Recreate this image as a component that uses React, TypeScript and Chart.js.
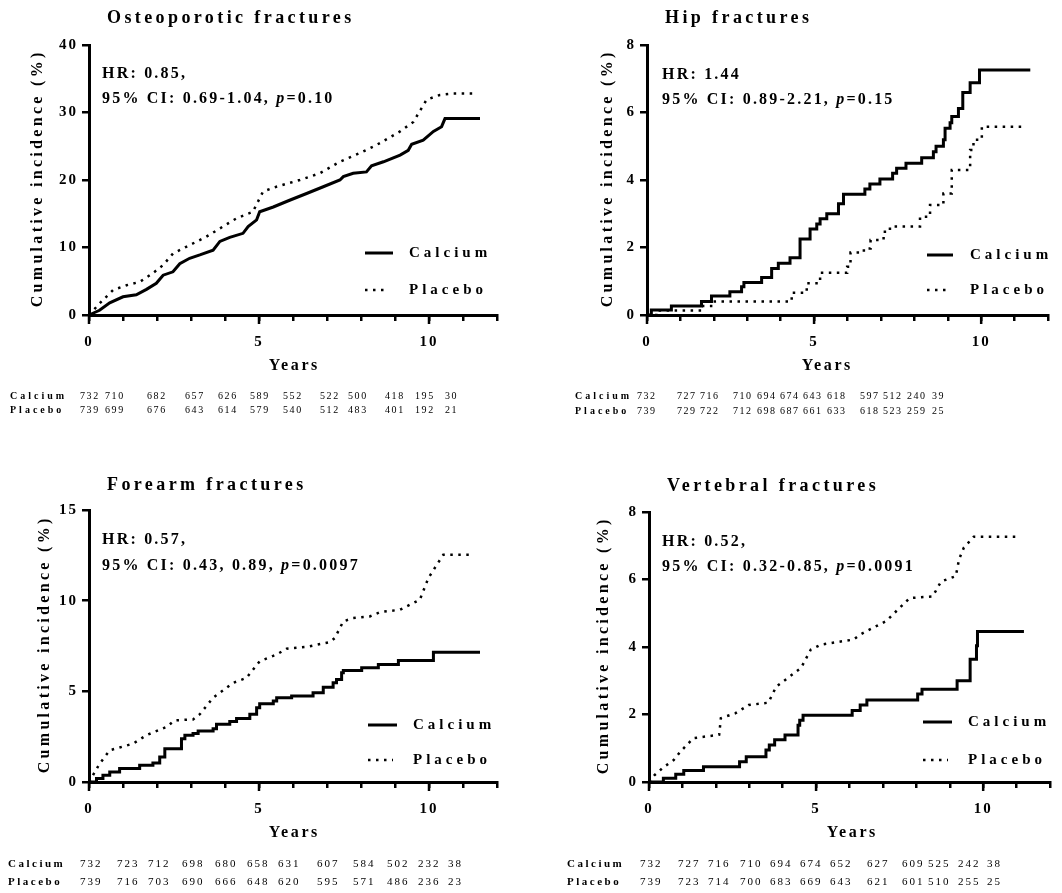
import { useEffect, useRef } from 'react';
import { Chart, registerables } from 'chart.js';

Chart.register(...registerables);

const SERIF = '"Liberation Serif", "Times New Roman", serif';
const W = 1062;
const H = 893;

// ---------- Data: Osteoporotic fractures ----------
const osteoCalciumYears = [0, 0.31, 0.61, 1.0, 1.39, 1.69, 1.98, 2.18, 2.47, 2.67, 2.96, 3.26, 3.65, 3.85, 4.14, 4.53, 4.68, 4.93, 5.02, 5.42, 5.9, 6.4, 6.89, 7.38, 7.48, 7.77, 8.16, 8.31, 8.66, 9.15, 9.39, 9.49, 9.83, 10.13, 10.37, 10.47, 11.5];
const osteoCalciumPct = [0, 0.7, 1.8, 2.7, 3.0, 3.8, 4.7, 5.9, 6.4, 7.6, 8.4, 8.9, 9.6, 10.9, 11.5, 12.1, 13.1, 14.1, 15.3, 16.0, 17.0, 18.0, 19.0, 20.0, 20.5, 21.0, 21.2, 22.1, 22.7, 23.7, 24.4, 25.3, 25.9, 27.2, 27.9, 29.1, 29.1];
const osteoPlaceboYears = [0, 0.31, 0.71, 1.1, 1.49, 1.88, 2.18, 2.47, 2.86, 3.45, 3.94, 4.33, 4.82, 5.12, 5.51, 6.2, 6.79, 7.38, 7.97, 8.46, 9.15, 9.54, 9.93, 10.32, 10.71, 11.3];
const osteoPlaceboPct = [0, 1.7, 3.7, 4.4, 4.9, 6.2, 7.4, 9.1, 10.1, 11.6, 13.1, 14.3, 15.3, 18.3, 19.0, 20.0, 21.0, 22.7, 24.0, 25.2, 27.2, 28.6, 31.9, 32.6, 32.8, 32.8];
const osteoRiskCalcium = [732, 710, 682, 657, 626, 589, 552, 522, 500, 418, 195, 30];
const osteoRiskPlacebo = [739, 699, 676, 643, 614, 579, 540, 512, 483, 401, 192, 21];

// ---------- Data: Hip fractures ----------
const hipCalciumYears = [0, 0.13, 0.73, 1.63, 1.93, 2.48, 2.83, 2.9, 3.43, 3.73, 3.93, 4.28, 4.58, 4.88, 5.08, 5.18, 5.38, 5.73, 5.88, 6.52, 6.67, 6.97, 7.35, 7.47, 7.75, 8.22, 8.57, 8.65, 8.87, 8.92, 9.07, 9.12, 9.32, 9.45, 9.67, 9.95, 11.47];
const hipCalciumPct = [0, 0.15, 0.27, 0.4, 0.56, 0.69, 0.84, 0.96, 1.11, 1.38, 1.53, 1.7, 2.25, 2.55, 2.7, 2.85, 3.0, 3.3, 3.58, 3.73, 3.88, 4.03, 4.2, 4.35, 4.5, 4.66, 4.84, 5.0, 5.19, 5.53, 5.7, 5.88, 6.12, 6.59, 6.88, 7.26, 7.26];
const hipPlaceboYears = [0, 0.28, 1.68, 2.03, 4.33, 4.78, 5.18, 5.99, 6.09, 6.49, 6.69, 7.08, 7.27, 8.17, 8.47, 8.87, 9.12, 9.67, 9.77, 10.02, 11.27];
const hipPlaceboPct = [0, 0.13, 0.27, 0.4, 0.66, 0.94, 1.25, 1.43, 1.85, 1.97, 2.22, 2.47, 2.62, 2.91, 3.26, 3.6, 4.3, 4.89, 5.19, 5.58, 5.58];
const hipRiskCalcium = [732, 727, 716, 710, 694, 674, 643, 618, 597, 512, 240, 39];
const hipRiskPlacebo = [739, 729, 722, 712, 698, 687, 661, 633, 618, 523, 259, 25];

// ---------- Data: Forearm fractures ----------
const foreCalciumYears = [0, 0.22, 0.41, 0.61, 0.9, 1.49, 1.88, 2.08, 2.23, 2.72, 2.82, 3.06, 3.21, 3.65, 3.75, 4.14, 4.34, 4.73, 4.93, 5.02, 5.42, 5.52, 5.96, 6.59, 6.89, 7.18, 7.28, 7.43, 7.48, 8.02, 8.51, 9.1, 10.13, 11.5];
const foreCalciumPct = [0, 0.19, 0.37, 0.55, 0.74, 0.92, 1.05, 1.38, 1.84, 2.39, 2.58, 2.67, 2.81, 2.94, 3.18, 3.34, 3.5, 3.74, 4.1, 4.32, 4.47, 4.65, 4.74, 4.92, 5.23, 5.47, 5.65, 6.02, 6.15, 6.3, 6.48, 6.7, 7.16, 7.16];
const forePlaceboYears = [0, 0.31, 0.61, 0.9, 1.3, 1.69, 2.28, 2.52, 3.06, 3.26, 3.65, 4.24, 4.63, 5.02, 5.52, 5.81, 6.4, 7.09, 7.23, 7.48, 7.77, 8.26, 8.56, 9.15, 9.73, 9.98, 10.23, 10.42, 11.3];
const forePlaceboPct = [0, 1.0, 1.75, 1.9, 2.12, 2.58, 3.04, 3.4, 3.45, 3.74, 4.65, 5.47, 5.74, 6.66, 7.03, 7.35, 7.45, 7.72, 7.94, 8.86, 9.04, 9.13, 9.37, 9.5, 10.05, 11.24, 11.98, 12.53, 12.53];
const foreRiskCalcium = [732, 723, 712, 698, 680, 658, 631, 607, 584, 502, 232, 38];
const foreRiskPlacebo = [739, 716, 703, 690, 666, 648, 620, 595, 571, 486, 236, 23];

// ---------- Data: Vertebral fractures ----------
const vertCalciumYears = [0, 0.43, 0.8, 1.04, 1.63, 2.71, 2.91, 3.5, 3.6, 3.76, 4.07, 4.46, 4.51, 4.61, 6.08, 6.32, 6.52, 8.04, 8.17, 9.22, 9.61, 9.8, 9.83, 11.22];
const vertCalciumPct = [0, 0.11, 0.23, 0.34, 0.45, 0.6, 0.75, 0.95, 1.1, 1.25, 1.39, 1.68, 1.83, 1.98, 2.12, 2.28, 2.43, 2.61, 2.75, 3.0, 3.64, 4.04, 4.46, 4.46];
const vertPlaceboYears = [0, 0.16, 0.45, 0.74, 0.94, 1.33, 2.1, 2.15, 2.59, 2.98, 3.57, 3.81, 4.15, 4.55, 4.84, 5.14, 6.12, 6.32, 6.61, 7.1, 7.45, 7.8, 8.49, 8.74, 9.18, 9.28, 9.42, 9.72, 11.04];
const vertPlaceboPct = [0, 0.2, 0.45, 0.65, 0.9, 1.3, 1.4, 1.89, 2.04, 2.28, 2.35, 2.83, 3.08, 3.38, 3.92, 4.07, 4.22, 4.37, 4.52, 4.77, 5.11, 5.45, 5.5, 5.94, 6.1, 6.6, 6.94, 7.27, 7.27];
const vertRiskCalcium = [732, 727, 716, 710, 694, 674, 652, 627, 609, 525, 242, 38];
const vertRiskPlacebo = [739, 723, 714, 700, 683, 669, 643, 621, 601, 510, 255, 25];

const xTickLabels = [0, 5, 10];
const seriesNames = ['Calcium', 'Placebo'];

type Area = { l: number; t: number; r: number; b: number };
type PanelCfg = {
  title: string;
  titleX: number;
  titleY: number;
  area: Area;
  yMax: number;
  yStep: number;
  yTitleX: number;
  hr1: string;
  hr2: string;
  hrP: string;
  hrX: number;
  hrY: [number, number];
  legLine: [number, number];
  legTextX: number;
  legY: [number, number];
  yearsX: number;
  yearsY: number;
  tableLabelX: number;
  tableY: [number, number];
  tableXs: number[];
  tableSize: number;
  tableSpacing: number;
  riskCalcium: number[];
  riskPlacebo: number[];
  calYears: number[];
  calPct: number[];
  plaYears: number[];
  plaPct: number[];
  calStepped: boolean;
  plaStepped: boolean;
};

const panels: PanelCfg[] = [
  {
    title: 'Osteoporotic fractures', titleX: 107, titleY: 18,
    area: { l: 89, t: 45, r: 497, b: 315 }, yMax: 40, yStep: 10, yTitleX: 38,
    hr1: 'HR: 0.85,', hr2: '95% CI: 0.69-1.04, ', hrP: '=0.10', hrX: 102, hrY: [74, 99],
    legLine: [365, 393], legTextX: 409, legY: [253, 290],
    yearsX: 293, yearsY: 366,
    tableLabelX: 10, tableY: [396, 410],
    tableXs: [80, 105, 147, 185, 218, 250, 283, 320, 348, 385, 415, 445],
    tableSize: 10, tableSpacing: 1.6,
    riskCalcium: osteoRiskCalcium, riskPlacebo: osteoRiskPlacebo,
    calYears: osteoCalciumYears, calPct: osteoCalciumPct, plaYears: osteoPlaceboYears, plaPct: osteoPlaceboPct,
    calStepped: false, plaStepped: false,
  },
  {
    title: 'Hip fractures', titleX: 665, titleY: 18,
    area: { l: 647, t: 45, r: 1048, b: 315 }, yMax: 8, yStep: 2, yTitleX: 608,
    hr1: 'HR: 1.44', hr2: '95% CI: 0.89-2.21, ', hrP: '=0.15', hrX: 662, hrY: [75, 100],
    legLine: [927, 953], legTextX: 970, legY: [255, 290],
    yearsX: 826, yearsY: 366,
    tableLabelX: 575, tableY: [396, 411],
    tableXs: [637, 677, 700, 733, 757, 780, 803, 827, 860, 883, 907, 932],
    tableSize: 10, tableSpacing: 1.5,
    riskCalcium: hipRiskCalcium, riskPlacebo: hipRiskPlacebo,
    calYears: hipCalciumYears, calPct: hipCalciumPct, plaYears: hipPlaceboYears, plaPct: hipPlaceboPct,
    calStepped: true, plaStepped: true,
  },
  {
    title: 'Forearm fractures', titleX: 107, titleY: 485,
    area: { l: 89, t: 510, r: 497, b: 782 }, yMax: 15, yStep: 5, yTitleX: 45,
    hr1: 'HR: 0.57,', hr2: '95% CI: 0.43, 0.89, ', hrP: '=0.0097', hrX: 102, hrY: [540, 566],
    legLine: [368, 397], legTextX: 413, legY: [725, 760],
    yearsX: 293, yearsY: 833,
    tableLabelX: 8, tableY: [864, 882],
    tableXs: [80, 117, 148, 182, 215, 247, 278, 317, 353, 387, 418, 448],
    tableSize: 11, tableSpacing: 2,
    riskCalcium: foreRiskCalcium, riskPlacebo: foreRiskPlacebo,
    calYears: foreCalciumYears, calPct: foreCalciumPct, plaYears: forePlaceboYears, plaPct: forePlaceboPct,
    calStepped: true, plaStepped: false,
  },
  {
    title: 'Vertebral fractures', titleX: 667, titleY: 486,
    area: { l: 649, t: 512, r: 1057, b: 782 }, yMax: 8, yStep: 2, yTitleX: 604,
    hr1: 'HR: 0.52,', hr2: '95% CI: 0.32-0.85, ', hrP: '=0.0091', hrX: 662, hrY: [542, 567],
    legLine: [923, 952], legTextX: 968, legY: [722, 760],
    yearsX: 851, yearsY: 833,
    tableLabelX: 567, tableY: [864, 882],
    tableXs: [640, 678, 708, 740, 770, 800, 830, 867, 902, 928, 958, 987],
    tableSize: 11, tableSpacing: 2,
    riskCalcium: vertRiskCalcium, riskPlacebo: vertRiskPlacebo,
    calYears: vertCalciumYears, calPct: vertCalciumPct, plaYears: vertPlaceboYears, plaPct: vertPlaceboPct,
    calStepped: true, plaStepped: false,
  },
];

const DOT_DASH = [2.5, 5.5];

function drawText(
  ctx: CanvasRenderingContext2D, s: string, x: number, y: number, font: string,
  spacing: number, align: CanvasTextAlign = 'left'
): number {
  ctx.save();
  ctx.font = font;
  (ctx as any).letterSpacing = '0px';
  const w = ctx.measureText(s).width + spacing * s.length;
  (ctx as any).letterSpacing = spacing + 'px';
  ctx.textAlign = 'left';
  ctx.textBaseline = 'middle';
  ctx.fillStyle = '#000';
  let sx = x;
  if (align === 'center') sx = x - w / 2 + spacing / 2;
  if (align === 'right') sx = x - w + spacing;
  ctx.fillText(s, sx, y);
  ctx.restore();
  return w;
}

function makeOverlay(cfg: PanelCfg) {
  return {
    id: 'overlay',
    beforeDraw(chart: Chart) {
      (chart.ctx as any).letterSpacing = '2px';
    },
    afterDraw(chart: Chart) {
      const ctx = chart.ctx;
      const a = cfg.area;
      const xs = chart.scales.x;
      // longer major ticks
      ctx.save();
      ctx.strokeStyle = '#000';
      ctx.lineWidth = 2.5;
      for (const v of xTickLabels) {
        const px = xs.getPixelForValue(v);
        ctx.beginPath();
        ctx.moveTo(px, a.b);
        ctx.lineTo(px, a.b + 9);
        ctx.stroke();
      }
      ctx.restore();

      // title
      drawText(ctx, cfg.title, cfg.titleX, cfg.titleY, `bold 18px ${SERIF}`, 3.4);

      // y title
      ctx.save();
      ctx.translate(cfg.yTitleX, (a.t + a.b) / 2);
      ctx.rotate(-Math.PI / 2);
      drawText(ctx, 'Cumulative incidence (%)', 0, 0, `bold 16px ${SERIF}`, 3.3, 'center');
      ctx.restore();

      // HR annotation
      const hrFont = `bold 16px ${SERIF}`;
      drawText(ctx, cfg.hr1, cfg.hrX, cfg.hrY[0], hrFont, 2.2);
      let x = cfg.hrX;
      x += drawText(ctx, cfg.hr2, x, cfg.hrY[1], hrFont, 2.2);
      x += drawText(ctx, 'p', x, cfg.hrY[1], `italic bold 16px ${SERIF}`, 2.2);
      drawText(ctx, cfg.hrP, x, cfg.hrY[1], hrFont, 2.2);

      // legend
      ctx.save();
      ctx.strokeStyle = '#000';
      ctx.lineWidth = 3;
      ctx.beginPath();
      ctx.moveTo(cfg.legLine[0], cfg.legY[0]);
      ctx.lineTo(cfg.legLine[1], cfg.legY[0]);
      ctx.stroke();
      ctx.lineWidth = 2.5;
      ctx.setLineDash(DOT_DASH);
      ctx.beginPath();
      ctx.moveTo(cfg.legLine[0], cfg.legY[1]);
      ctx.lineTo(cfg.legLine[1] - 4, cfg.legY[1]);
      ctx.stroke();
      ctx.restore();
      drawText(ctx, seriesNames[0], cfg.legTextX, cfg.legY[0], `bold 15px ${SERIF}`, 4);
      drawText(ctx, seriesNames[1], cfg.legTextX, cfg.legY[1], `bold 15px ${SERIF}`, 4);

      // x title
      drawText(ctx, 'Years', cfg.yearsX, cfg.yearsY, `bold 16px ${SERIF}`, 2.6, 'center');

      // number at risk table
      const rows = [cfg.riskCalcium, cfg.riskPlacebo];
      rows.forEach((row, ri) => {
        const y = cfg.tableY[ri];
        drawText(ctx, seriesNames[ri], cfg.tableLabelX, y, `bold ${cfg.tableSize}px ${SERIF}`, cfg.tableSize === 10 ? 3 : 2.5);
        row.forEach((n, i) => {
          drawText(ctx, String(n), cfg.tableXs[i], y, `${cfg.tableSize}px ${SERIF}`, cfg.tableSpacing);
        });
      });
    },
  };
}

function Panel({ cfg }: { cfg: PanelCfg }) {
  const ref = useRef<HTMLCanvasElement>(null);
  useEffect(() => {
    const a = cfg.area;
    const toPts = (xs: number[], ys: number[]) => xs.map((x, i) => ({ x, y: ys[i] }));
    const tickFont = { family: SERIF, size: 15, weight: 'bold' as const };
    const chart = new Chart(ref.current as HTMLCanvasElement, {
      type: 'line',
      data: {
        datasets: [
          {
            label: seriesNames[0],
            data: toPts(cfg.calYears, cfg.calPct),
            borderColor: '#000',
            borderWidth: 3,
            pointRadius: 0,
            stepped: cfg.calStepped ? 'before' : false,
            tension: 0,
            clip: false as any,
            fill: false,
          },
          {
            label: seriesNames[1],
            data: toPts(cfg.plaYears, cfg.plaPct),
            borderColor: '#000',
            borderWidth: 2.5,
            borderDash: DOT_DASH,
            borderCapStyle: 'butt',
            pointRadius: 0,
            stepped: cfg.plaStepped ? 'before' : false,
            tension: 0,
            clip: false as any,
            fill: false,
          },
        ],
      },
      options: {
        responsive: false,
        animation: false,
        events: [],
        layout: { padding: { left: 0, top: a.t, right: W - a.r, bottom: 0 } },
        plugins: {
          legend: { display: false },
          tooltip: { enabled: false },
          title: { display: false },
        },
        scales: {
          x: {
            type: 'linear',
            min: 0,
            max: 12,
            afterFit: (s: any) => { s.height = H - a.b; },
            ticks: {
              stepSize: 1,
              autoSkip: false,
              maxRotation: 0,
              color: '#000',
              font: tickFont,
              padding: 12,
              callback: (v: any) => (xTickLabels.includes(Number(v)) ? String(v) : ''),
            },
            grid: { drawOnChartArea: false, color: '#000', lineWidth: 2.5, tickLength: 6 },
            border: { color: '#000', width: 3 },
          },
          y: {
            type: 'linear',
            min: 0,
            max: cfg.yMax,
            afterFit: (s: any) => { s.width = a.l; },
            ticks: { stepSize: cfg.yStep, color: '#000', font: tickFont, padding: 4 },
            grid: { drawOnChartArea: false, color: '#000', lineWidth: 2.5, tickLength: 7 },
            border: { color: '#000', width: 3 },
          },
        },
      },
      plugins: [makeOverlay(cfg)],
    });
    return () => chart.destroy();
  }, [cfg]);
  return (
    <canvas
      ref={ref}
      width={W}
      height={H}
      style={{ position: 'absolute', left: 0, top: 0, width: W, height: H }}
    />
  );
}

export default function App() {
  return (
    <div style={{ position: 'absolute', left: 0, top: 0, width: W, height: H, background: '#fff', overflow: 'hidden' }}>
      {panels.map((p) => (
        <Panel key={p.title} cfg={p} />
      ))}
    </div>
  );
}
